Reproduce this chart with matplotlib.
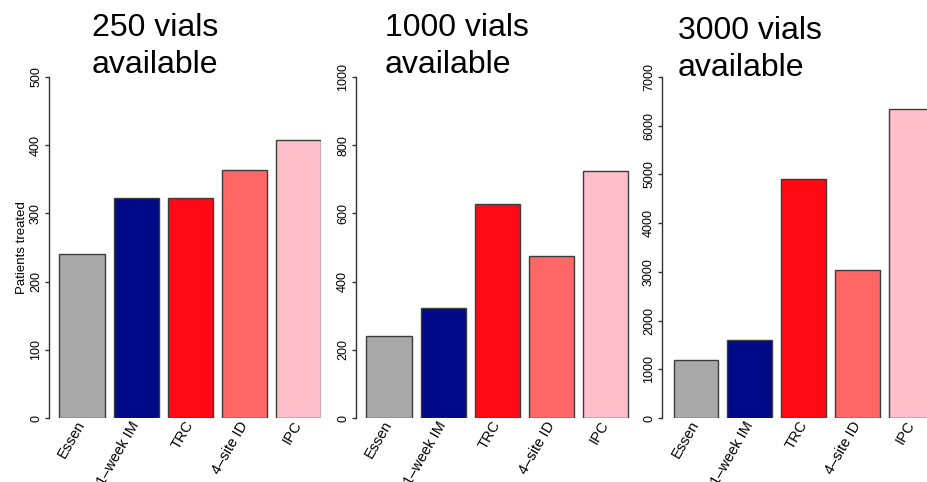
import numpy as np
import matplotlib
matplotlib.use("Agg")
import matplotlib.pyplot as plt

plt.rcParams['font.family'] = ['Liberation Sans', 'DejaVu Sans']

# data
methods = ["Essen", "1\u2013week IM", "TRC", "4\u2013site ID", "IPC"]
colors = ["#a9a9a9", "#000a88", "#ff0a14", "#ff6666", "#ffbfca"]
vials_250 = [240, 322, 322, 363, 407]
vials_1000 = [240, 322, 628, 475, 725]
vials_3000 = [1190, 1600, 4900, 3040, 6340]
titles = [("250 vials", "available"), ("1000 vials", "available"), ("3000 vials", "available")]
ymax = [500, 1000, 7000]
ystep = [100, 200, 1000]

W, H = 927, 482
fig = plt.figure(figsize=(W / 100, H / 100), dpi=100)

y0_px, ytop_px = 418, 77
# spine x, first bar centre, bar spacing, right edge (pixels)
panels = [(49, 82, 54.2, 321), (356, 389, 54.1, 640), (662, 696, 53.9, 927)]
title_pos = [(92, 36, 73), (385, 36, 73), (678, 39, 76)]
data = [vials_250, vials_1000, vials_3000]

for i, (sx, c0, sp, rx) in enumerate(panels):
    ax = fig.add_axes([sx / W, 1 - y0_px / H, (rx - sx) / W, (y0_px - ytop_px) / H])
    ax.set_zorder(i)
    ax.patch.set_facecolor("white")
    x = np.arange(len(methods))
    ax.bar(x, data[i], width=0.833, color=colors, edgecolor="#3c3c3c", linewidth=1.0)
    ax.set_xlim(-(c0 - sx) / sp, (rx - c0) / sp)
    ax.set_ylim(0, ymax[i])
    for s in ["top", "right", "bottom"]:
        ax.spines[s].set_visible(False)
    ax.spines["left"].set_color("#333333")
    ax.spines["left"].set_linewidth(1.0)
    ax.set_yticks(np.arange(0, ymax[i] + 1, ystep[i]))
    ax.tick_params(axis="y", length=3, width=1.0, color="#333333", pad=2, labelsize=9, labelrotation=90)
    for lbl in ax.get_yticklabels():
        lbl.set_va("center")
    ax.set_xticks(x)
    ax.set_xticklabels(methods, rotation=60, ha="right", va="center", rotation_mode="anchor", fontsize=10.5)
    ax.tick_params(axis="x", length=0, pad=3)
    if i == 0:
        ax.set_ylabel("Patients treated", fontsize=9.5)
        ax.yaxis.set_label_coords((28 - sx) / (rx - sx), 0.5)
    tx, b1, b2 = title_pos[i]
    fig.text(tx / W, 1 - b1 / H, titles[i][0], fontsize=23, va="baseline", ha="left")
    fig.text(tx / W, 1 - b2 / H, titles[i][1], fontsize=23, va="baseline", ha="left")

fig.savefig("out.png", dpi=100)
